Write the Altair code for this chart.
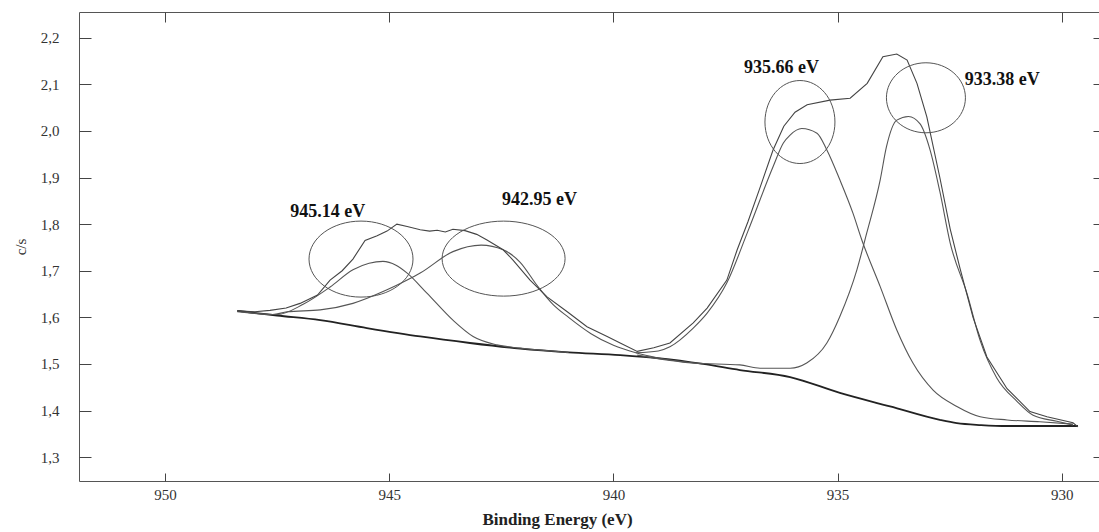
import altair as alt
import pandas as pd

# ---- measured spectrum (binding energy in eV, intensity in c/s) ----
ENV_EV = [948.39, 948.0, 947.66, 947.3, 946.99, 946.6, 946.32, 946.05, 945.81, 945.54,
          945.27, 945.05, 944.83, 944.6, 944.31, 944.1, 943.93, 943.75, 943.58, 943.31,
          943.05, 942.82, 942.46, 942.24, 941.86, 941.48, 941.03, 940.59, 940.14, 939.85,
          939.47, 939.1, 938.74, 938.22, 937.91, 937.47, 937.24, 937.0, 936.75, 936.44,
          936.2, 935.95, 935.68, 935.17, 934.72, 934.34, 933.99, 933.68, 933.45, 933.23,
          933.01, 932.72, 932.49, 932.27, 931.98, 931.67, 931.22, 930.71, 930.33, 929.75,
          929.64]
ENV_VAL = [1.614, 1.612, 1.615, 1.620, 1.630, 1.648, 1.680, 1.700, 1.725, 1.765,
           1.775, 1.785, 1.800, 1.795, 1.788, 1.785, 1.787, 1.783, 1.789, 1.786,
           1.778, 1.766, 1.745, 1.723, 1.680, 1.644, 1.612, 1.580, 1.559, 1.545,
           1.527, 1.535, 1.545, 1.588, 1.620, 1.680, 1.745, 1.805, 1.873, 1.959,
           2.010, 2.040, 2.056, 2.066, 2.070, 2.102, 2.159, 2.165, 2.152, 2.102,
           2.030, 1.900, 1.790, 1.705, 1.600, 1.515, 1.447, 1.398, 1.387, 1.374,
           1.365]

BG_EV = [948.39, 947.5, 946.54, 945.5, 944.31, 943.2, 942.08, 941.0, 939.85, 938.96,
         938.0, 937.18, 936.06, 934.95, 933.83, 932.72, 932.34, 931.8, 931.22, 930.5,
         929.75, 929.64]
BG_VAL = [1.614, 1.604, 1.594, 1.577, 1.559, 1.545, 1.533, 1.525, 1.519, 1.512,
          1.500, 1.487, 1.472, 1.438, 1.409, 1.380, 1.373, 1.369, 1.367, 1.367,
          1.367, 1.367]

C1_EV = [948.39, 947.5, 946.92, 946.32, 945.81, 945.45, 945.14, 944.85, 944.6, 944.16,
         943.58, 943.13, 942.6, 942.08, 941.0]
C1_VAL = [1.612, 1.606, 1.628, 1.665, 1.702, 1.716, 1.720, 1.712, 1.695, 1.652,
          1.594, 1.559, 1.541, 1.534, 1.525]

C2_EV = [948.39, 947.6, 947.28, 946.54, 945.81, 945.05, 944.6, 944.31, 943.58, 942.95,
         942.46, 942.08, 941.7, 941.35, 941.0, 940.5, 940.0, 939.5, 939.0, 938.0]
C2_VAL = [1.614, 1.606, 1.612, 1.616, 1.630, 1.659, 1.680, 1.695, 1.741, 1.755,
          1.745, 1.718, 1.668, 1.628, 1.600, 1.565, 1.540, 1.524, 1.513, 1.500]

C3_EV = [939.5, 939.0, 938.74, 938.22, 937.91, 937.47, 937.0, 936.44, 936.21, 936.06,
         935.8, 935.46, 935.24, 934.95, 934.66, 934.46, 934.05, 933.68, 933.32, 932.87,
         932.34, 931.82, 931.22, 930.49, 929.75]
C3_VAL = [1.524, 1.528, 1.537, 1.577, 1.609, 1.674, 1.785, 1.923, 1.974, 1.991,
          2.005, 1.995, 1.959, 1.895, 1.824, 1.766, 1.666, 1.573, 1.502, 1.444,
          1.409, 1.387, 1.380, 1.376, 1.371]

C4_EV = [939.47, 938.22, 937.18, 936.73, 936.06, 935.69, 935.24, 934.95, 934.57, 934.35,
         934.05, 933.91, 933.68, 933.42, 933.16, 932.94, 932.72, 932.49, 932.11, 931.82,
         931.45, 931.0, 930.64, 930.11, 929.75]
C4_VAL = [1.519, 1.502, 1.498, 1.491, 1.491, 1.502, 1.545, 1.602, 1.702, 1.781,
          1.895, 1.966, 2.023, 2.031, 2.015, 1.960, 1.870, 1.760, 1.650, 1.550,
          1.470, 1.420, 1.390, 1.377, 1.369]

# ---- peak annotations ----
LABELS = ["945.14 eV", "942.95 eV", "935.66 eV", "933.38 eV"]
LABEL_EV = [946.37, 941.65, 936.25, 931.33]
LABEL_VAL = [1.826, 1.852, 2.135, 2.109]
ELLIPSE_EV = [945.63, 942.45, 935.84, 933.03]
ELLIPSE_VAL = [1.725, 1.726, 2.019, 2.071]

TICKS_X = [950, 945, 940, 935, 930]
TICKS_Y = [1.3, 1.4, 1.5, 1.6, 1.7, 1.8, 1.9, 2.0, 2.1, 2.2]

# ---- styling ----
ELLIPSE_W = [104, 123, 70, 79]
ELLIPSE_H = [76, 75, 83, 70]
SERIF = "Liberation Serif"
W, H = 1020, 469

xs = alt.Scale(domain=[929.17, 951.92], reverse=True, nice=False, zero=False)
ys = alt.Scale(domain=[1.249, 2.255], nice=False, zero=False)

x_axis = alt.Axis(values=TICKS_X, format="d", orient="bottom", offset=-8, tickSize=8,
                  domain=False, grid=False, tickColor="#444", tickWidth=1,
                  labelFont=SERIF, labelFontSize=15, labelColor="#333", labelPadding=6,
                  title="Binding Energy (eV)", titleFont=SERIF, titleFontSize=17,
                  titleFontWeight="bold", titleColor="#222", titlePadding=9, titleX=478)
y_axis = alt.Axis(values=TICKS_Y, orient="left", offset=-12, tickSize=12,
                  labelExpr="replace(format(datum.value, '.1f'), '.', ',')",
                  domain=False, grid=False, tickColor="#444", tickWidth=1,
                  labelFont=SERIF, labelFontSize=15, labelColor="#333", labelPadding=20,
                  title="c/s", titleFont=SERIF, titleFontSize=15, titleFontWeight="normal",
                  titleColor="#333", titlePadding=12)
x_top = alt.Axis(values=TICKS_X, orient="top", offset=-10, tickSize=10, labels=False,
                 domain=False, grid=False, tickColor="#444", title=None)
y_right = alt.Axis(values=TICKS_Y, orient="right", offset=-6, tickSize=6, labels=False,
                   domain=False, grid=False, tickColor="#444", title=None)


def df_of(ev, val):
    return pd.DataFrame({"ev": ev, "val": val})


def curve(ev, val, color, width, interp, xa=None, ya=None):
    return alt.Chart(df_of(ev, val)).mark_line(
        color=color, strokeWidth=width, interpolate=interp
    ).encode(
        x=alt.X("ev:Q", scale=xs, axis=xa),
        y=alt.Y("val:Q", scale=ys, axis=ya),
    )


layers = [
    curve(BG_EV, BG_VAL, "#222", 1.8, "monotone", x_axis, y_axis),
    curve(C1_EV, C1_VAL, "#555", 1.1, "monotone"),
    curve(C2_EV, C2_VAL, "#555", 1.1, "monotone"),
    curve(C3_EV, C3_VAL, "#555", 1.1, "monotone"),
    curve(C4_EV, C4_VAL, "#555", 1.1, "monotone"),
    curve(ENV_EV, ENV_VAL, "#444", 1.1, "linear"),
]

k = 0.5523
for ev, val, w, h in zip(ELLIPSE_EV, ELLIPSE_VAL, ELLIPSE_W, ELLIPSE_H):
    r = h / w
    path = (f"M -1 0 C -1 {-k*r:.4f} {-k:.4f} {-r:.4f} 0 {-r:.4f} "
            f"C {k:.4f} {-r:.4f} 1 {-k*r:.4f} 1 0 "
            f"C 1 {k*r:.4f} {k:.4f} {r:.4f} 0 {r:.4f} "
            f"C {-k:.4f} {r:.4f} -1 {k*r:.4f} -1 0 Z")
    layers.append(
        alt.Chart(df_of([ev], [val])).mark_point(
            shape=path, size=w * w, filled=False, stroke="#555", strokeWidth=1, opacity=1
        ).encode(
            x=alt.X("ev:Q", scale=xs, axis=None),
            y=alt.Y("val:Q", scale=ys, axis=None),
        )
    )

label_df = pd.DataFrame({"ev": LABEL_EV, "val": LABEL_VAL, "label": LABELS})
layers.append(
    alt.Chart(label_df).mark_text(
        font=SERIF, fontSize=18, fontWeight="bold", color="#111",
        align="center", baseline="middle"
    ).encode(
        x=alt.X("ev:Q", scale=xs, axis=None),
        y=alt.Y("val:Q", scale=ys, axis=None),
        text="label:N",
    )
)

# top / right inward tick marks
layers.append(
    alt.Chart(df_of(BG_EV[:1], BG_VAL[:1])).mark_point(opacity=0).encode(
        x=alt.X("ev:Q", scale=xs, axis=x_top),
        y=alt.Y("val:Q", scale=ys, axis=y_right),
    )
)

chart = alt.layer(*layers).resolve_axis(x="independent", y="independent").properties(
    width=W, height=H,
    autosize=alt.AutoSizeParams(type="none"),
    padding={"left": 79, "top": 12, "right": 0, "bottom": 51},
    background="white",
).configure_view(stroke="#555", strokeWidth=1)

chart.save("out.html", embed_options={"renderer": "svg", "actions": False})
